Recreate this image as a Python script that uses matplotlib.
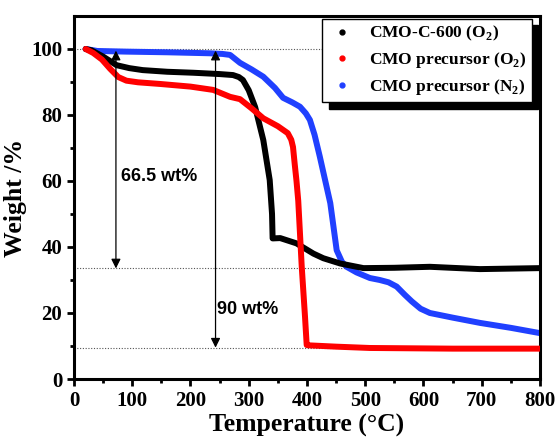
import numpy as np
import matplotlib.pyplot as plt

# CMO-C-600 (O2)
t_c600 = [20, 30, 50, 73, 95, 118, 160, 205, 250, 273, 283, 290, 300, 311, 325, 336, 340, 341, 354, 382, 411, 428, 457, 497, 550, 611, 697, 800]
w_c600 = [100, 99.6, 97.7, 95.1, 94.2, 93.6, 93.1, 92.8, 92.4, 92.1, 91.5, 90.6, 87.5, 82.4, 72.4, 60.3, 50, 42.6, 42.7, 41.1, 38, 36.6, 35, 33.6, 33.7, 34.0, 33.3, 33.6]

# CMO precursor (O2)
t_pre_o2 = [20, 33, 48, 62, 76, 90, 110, 148, 200, 239, 268, 285, 305, 325, 350, 367, 373, 376, 379, 382, 385, 391, 396.6, 399.5, 403, 450, 508, 650, 800]
w_pre_o2 = [100, 98.8, 96.8, 94, 91.5, 90.4, 89.9, 89.4, 88.6, 87.6, 85.5, 84.8, 82, 79, 76.6, 74.5, 72.5, 70.3, 65, 60, 54, 34, 18.9, 10.3, 10.2, 9.8, 9.4, 9.2, 9.2]

# CMO precursor (N2)
t_pre_n2 = [20, 40, 90, 160, 233, 255, 268, 285, 305, 325, 345, 359, 375, 388, 398, 405, 413, 422, 440, 451, 460, 468, 485, 508, 525, 540, 554, 568, 580, 595, 611, 650, 697, 750, 800]
w_pre_n2 = [100, 99.4, 99.2, 99.0, 98.7, 98.5, 98.2, 95.8, 93.8, 91.6, 88.2, 85.2, 83.8, 82.5, 80.5, 78.5, 74, 67.4, 53.3, 39, 35.5, 34, 32.3, 30.6, 30, 29.3, 28, 25.5, 23.5, 21.3, 20, 18.6, 17, 15.5, 13.9]

ref_levels = [100, 33.5, 9.5]

plt.rcParams['font.family'] = 'Liberation Serif'
plt.rcParams['font.weight'] = 'bold'
plt.rcParams['mathtext.fontset'] = 'custom'
plt.rcParams['mathtext.bf'] = 'Liberation Serif:bold'
plt.rcParams['mathtext.rm'] = 'Liberation Serif:bold'

fig = plt.figure(figsize=(5.58, 4.38), dpi=100)
ax = fig.add_axes([0.1326, 0.1347, 0.8351, 0.8288])

for y in ref_levels:
    ax.axhline(y, color='#555555', ls=(0, (1, 1.5)), lw=0.8, zorder=1)

lw = 4.3
style = dict(lw=lw, solid_capstyle='round', solid_joinstyle='round')
ax.plot(t_c600, w_c600, color='black', zorder=3, **style)
ax.plot(t_pre_o2, w_pre_o2, color='#ff0000', zorder=3, **style)
ax.plot(t_pre_n2, w_pre_n2, color='#2040ff', zorder=2, **style)

# legend handles
h1, = ax.plot([], [], 'o', color='black', ms=3.5)
h2, = ax.plot([], [], 'o', color='#ff0000', ms=3.5)
h3, = ax.plot([], [], 'o', color='#2040ff', ms=3.5)
leg = ax.legend([h1, h2, h3],
                ['CMO-C-600 (O$_\\mathbf{2}$)', 'CMO precursor (O$_\\mathbf{2}$)', 'CMO precursor (N$_\\mathbf{2}$)'],
                loc='upper right', bbox_to_anchor=(0.983, 0.992),
                fancybox=False, frameon=True, edgecolor='black', framealpha=1,
                shadow={'color': 'black', 'alpha': 1, 'ox': 4.5, 'oy': -4.5},
                prop={'family': 'Liberation Serif', 'weight': 'bold', 'size': 12.5},
                handletextpad=0.8, labelspacing=0.4, borderpad=0.3, borderaxespad=0,
                handlelength=1.6)
leg.get_frame().set_linewidth(1)

# arrows
arr = dict(arrowstyle='<|-|>', color='black', lw=0.9, mutation_scale=14, shrinkA=0, shrinkB=0)
ax.annotate('', xy=(72, 33.5), xytext=(72, 99.5), arrowprops=arr)
ax.annotate('', xy=(243, 9.5), xytext=(243, 99.5), arrowprops=arr)
ax.text(81, 61.5, '66.5 wt%', family='Liberation Sans', weight='bold', fontsize=13, va='center')
ax.text(245, 21, '90 wt%', family='Liberation Sans', weight='bold', fontsize=13, va='center')

ax.set_xlim(0, 800)
ax.set_ylim(0, 110)
ax.set_xticks(np.arange(0, 801, 100))
ax.set_xticks(np.arange(50, 801, 100), minor=True)
ax.set_yticks(np.arange(0, 101, 20))
ax.set_yticks(np.arange(10, 101, 20), minor=True)
ax.tick_params(which='both', direction='out', width=2, labelsize=15)
ax.tick_params(which='major', length=5)
ax.tick_params(which='minor', length=3)
for s in ax.spines.values():
    s.set_linewidth(2.2)

ax.set_xlabel('Temperature (\u00b0C)', fontsize=18.5, weight='bold', labelpad=2)
ax.set_ylabel('Weight /%', fontsize=18.5, weight='bold', labelpad=3)

fig.savefig('out.png', dpi=100)
